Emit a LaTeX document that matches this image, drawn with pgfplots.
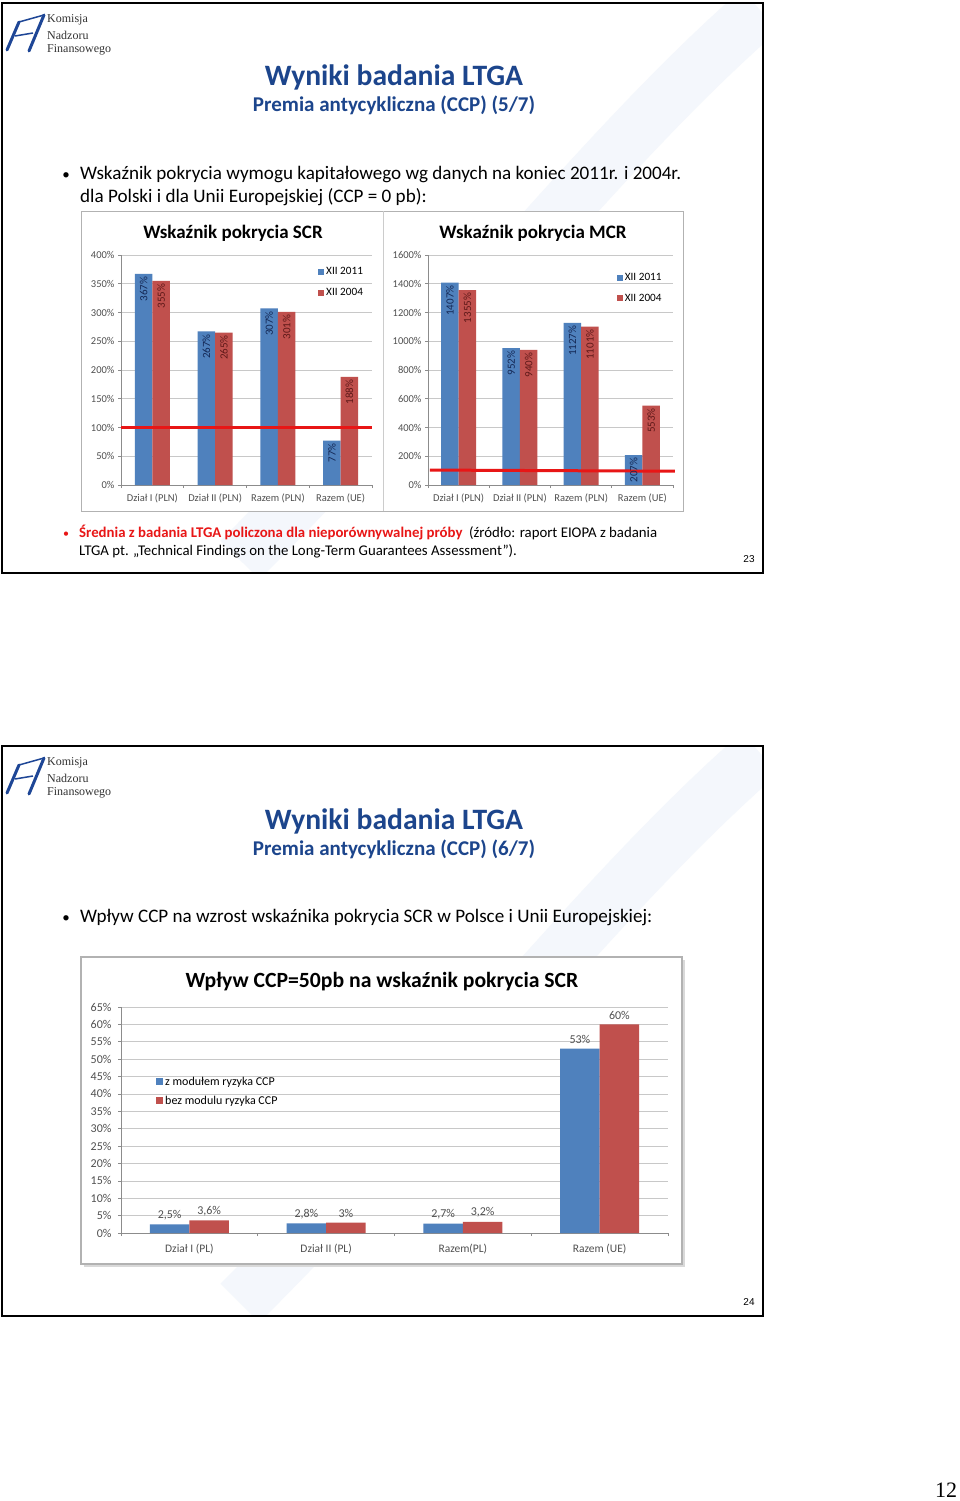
\documentclass[border=0pt]{standalone}
\usepackage{fontspec}
\setmainfont{Carlito}
\newfontfamily\timesf{Liberation Serif}
\newfontfamily\arialf{Liberation Sans}
\usepackage{pgfplots}
\pgfplotsset{compat=1.18}
\definecolor{xblue}{RGB}{79,129,189}
\definecolor{xred}{RGB}{192,80,77}
\definecolor{tblue}{RGB}{28,69,140}
\definecolor{lred}{RGB}{232,22,22}
\definecolor{tickgray}{RGB}{80,80,80}
\definecolor{gridgray}{RGB}{200,200,200}
\definecolor{axgray}{RGB}{140,140,140}
\definecolor{bluelab}{RGB}{20,40,85}
\definecolor{redlab}{RGB}{95,25,25}
\definecolor{wm}{RGB}{244,247,252}
\definecolor{logoblue}{RGB}{30,70,150}
\newcommand\fs[1]{\fontsize{#1}{#1}\selectfont}

\pgfplotsset{
  xl/.style={
    scale only axis, ymin=0, xmin=-0.5, xmax=3.5, enlargelimits=false,
    axis x line*=bottom, axis y line*=left,
    axis line style={draw=axgray, line width=0.8pt},
    ymajorgrids, grid style={draw=gridgray, line width=0.7pt},
    tick align=outside, major tick length=3pt,
    tick style={draw=axgray, line width=0.7pt},
    xtick={-0.5,0.5,1.5,2.5,3.5}, xticklabels={},
    extra x ticks={0,1,2,3},
    extra x tick style={tick style={draw=none}},
    ticklabel style={text=tickgray},
    legend cell align=left,
    legend style={draw=none, fill=none, anchor=north west, inner sep=0pt},
  }
}

\begin{document}
\begin{tikzpicture}[x=1pt,y=1pt]
\useasboundingbox (0,0) rectangle (960,-1501);
\fill[white] (0,0) rectangle (960,-1501);

% ---------- watermarks ----------
\begin{scope}
\clip (2,-3) rectangle (763,-573);
\draw[wm, line width=55pt] (760,-10) .. controls (600,-150) and (450,-350) .. (240,-560);
\end{scope}
\begin{scope}
\clip (2,-746) rectangle (763,-1316);
\draw[wm, line width=55pt] (760,-753) .. controls (600,-893) and (450,-1093) .. (240,-1303);
\end{scope}

% ---------- slide frames ----------
\draw[black, line width=2.5pt] (2,-3) rectangle (763,-573);
\draw[black, line width=2.5pt] (2,-746) rectangle (763,-1316);

% ---------- logos ----------
\foreach \dy in {0,743}{
  \begin{scope}[yshift=-\dy]
  \draw[logoblue, line width=3pt, line cap=round] (7,-50) -- (19,-22);
  \draw[logoblue, line width=1.5pt] (19,-22) -- (44,-15);
  \draw[logoblue, line width=3pt, line cap=round] (44,-15) -- (29,-51);
  \draw[logoblue, line width=1.5pt] (15,-36) -- (33,-33);
  \node[anchor=west, inner sep=0pt, text=black!80] at (47,-20) {\timesf\fs{12}Komisja};
  \node[anchor=west, inner sep=0pt, text=black!80] at (47,-35) {\timesf\fs{12}Nadzoru};
  \node[anchor=west, inner sep=0pt, text=black!80] at (47,-50) {\timesf\fs{12}Finansowego};
  \end{scope}
}

% ---------- slide 1 text ----------
\node[anchor=base, inner sep=0pt, text=tblue] at (394,-86) {\fs{29.6}\bfseries Wyniki badania LTGA};
\node[anchor=base, inner sep=0pt, text=tblue] at (394,-112) {\fs{21}\bfseries Premia antycykliczna (CCP) (5/7)};
\node[anchor=base, inner sep=0pt] at (66,-179) {\fs{15}•};
\node[anchor=base west, inner sep=0pt] at (80,-179) {\fs{19.1}Wskaźnik pokrycia wymogu kapitałowego wg danych na koniec 2011r. i 2004r.};
\node[anchor=base west, inner sep=0pt] at (80,-202) {\fs{19.1}dla Polski i dla Unii Europejskiej (CCP = 0 pb):};

\node[anchor=base, inner sep=0pt, text=lred] at (66,-537) {\fs{12}•};
\node[anchor=base west, inner sep=0pt] at (79,-537) {\fs{14.8}\textcolor{lred}{\bfseries Średnia z badania LTGA policzona dla nieporównywalnej próby}\ \ (źródło: raport EIOPA z badania};
\node[anchor=base west, inner sep=0pt] at (79,-555) {\fs{14.8}LTGA pt. „Technical Findings on the Long-Term Guarantees Assessment”).};
\node[anchor=center, inner sep=0pt] at (749,-559) {\arialf\fs{10}23};

% ---------- slide 1 chart panel ----------
\fill[white] (81,-211) rectangle (683,-511);
\draw[gray!60, line width=1pt] (81,-211) rectangle (683,-511);
\draw[gray!40, line width=1pt] (383,-211) -- (383,-511);
\node[anchor=base, inner sep=0pt] at (233,-238) {\fs{19}\bfseries Wskaźnik pokrycia SCR};
\node[anchor=base, inner sep=0pt] at (533,-238) {\fs{19}\bfseries Wskaźnik pokrycia MCR};

% SCR
\begin{axis}[xl, at={(121pt,-485pt)}, anchor=south west, width=251pt, height=230pt,
  ymax=400, ytick={0,50,...,400},
  yticklabels={0\%,50\%,100\%,150\%,200\%,250\%,300\%,350\%,400\%},
  extra x tick labels={Dział I (PLN),Dział II (PLN),Razem (PLN),Razem (UE)},
  ticklabel style={font=\fs{10.5}}, xticklabel style={yshift=-2.5pt},
  legend style={at={(0.785,0.955)}, font=\fs{11.2}, row sep=8pt},
  legend image code/.code={\fill[#1] (0pt,-3pt) rectangle (6pt,3pt);},
]
\addplot[ybar, bar width=17.5pt, bar shift=-8.75pt, fill=xblue, draw=none,
  point meta=explicit symbolic, nodes near coords,
  nodes near coords style={xshift=-8.75pt, rotate=90, anchor=east, text=bluelab, font=\fs{11}, inner sep=2.5pt}]
  coordinates {(0,367) [367\%] (1,267) [267\%] (2,307) [307\%] (3,77) [77\%]};
\addplot[ybar, bar width=17.5pt, bar shift=8.75pt, fill=xred, draw=none,
  point meta=explicit symbolic, nodes near coords,
  nodes near coords style={xshift=8.75pt, rotate=90, anchor=east, text=redlab, font=\fs{11}, inner sep=2.5pt}]
  coordinates {(0,355) [355\%] (1,265) [265\%] (2,301) [301\%] (3,188) [188\%]};
\legend{XII 2011, XII 2004}
\addplot[sharp plot, lred, line width=3pt, forget plot] coordinates {(-0.5,100) (3.5,100)};
\end{axis}

% MCR
\begin{axis}[xl, at={(428pt,-485pt)}, anchor=south west, width=245pt, height=230pt,
  ymax=1600, ytick={0,200,...,1600},
  yticklabels={0\%,200\%,400\%,600\%,800\%,1000\%,1200\%,1400\%,1600\%},
  extra x tick labels={Dział I (PLN),Dział II (PLN),Razem (PLN),Razem (UE)},
  ticklabel style={font=\fs{10.5}}, xticklabel style={yshift=-2.5pt},
  legend style={at={(0.77,0.93)}, font=\fs{11.2}, row sep=8pt},
  legend image code/.code={\fill[#1] (0pt,-3pt) rectangle (6pt,3pt);},
  clip=false,
]
\addplot[ybar, bar width=17.5pt, bar shift=-8.75pt, fill=xblue, draw=none,
  point meta=explicit symbolic, nodes near coords,
  nodes near coords style={xshift=-8.75pt, rotate=90, anchor=east, text=bluelab, font=\fs{11}, inner sep=2.5pt}]
  coordinates {(0,1407) [1407\%] (1,952) [952\%] (2,1127) [1127\%] (3,207) [207\%]};
\addplot[ybar, bar width=17.5pt, bar shift=8.75pt, fill=xred, draw=none,
  point meta=explicit symbolic, nodes near coords,
  nodes near coords style={xshift=8.75pt, rotate=90, anchor=east, text=redlab, font=\fs{11}, inner sep=2.5pt}]
  coordinates {(0,1355) [1355\%] (1,940) [940\%] (2,1101) [1101\%] (3,553) [553\%]};
\legend{XII 2011, XII 2004}
\addplot[sharp plot, lred, line width=3pt, forget plot] coordinates {(-0.47,104) (3.53,96)};
\end{axis}

% ---------- slide 2 text ----------
\node[anchor=base, inner sep=0pt, text=tblue] at (394,-829) {\fs{29.6}\bfseries Wyniki badania LTGA};
\node[anchor=base, inner sep=0pt, text=tblue] at (394,-855) {\fs{21}\bfseries Premia antycykliczna (CCP) (6/7)};
\node[anchor=base, inner sep=0pt] at (66,-922) {\fs{15}•};
\node[anchor=base west, inner sep=0pt] at (80,-922) {\fs{19.1}Wpływ CCP na wzrost wskaźnika pokrycia SCR w Polsce i Unii Europejskiej:};
\node[anchor=center, inner sep=0pt] at (749,-1302) {\arialf\fs{10}24};

% ---------- slide 2 chart panel ----------
\fill[gray!30] (84,-960) rectangle (685,-1267);
\fill[white] (81,-957) rectangle (682,-1264);
\draw[gray!60, line width=1.2pt] (81,-957) rectangle (682,-1264);
\node[anchor=base, inner sep=0pt] at (382,-987) {\fs{21.7}\bfseries Wpływ CCP=50pb na wskaźnik pokrycia SCR};

\begin{axis}[xl, at={(121pt,-1233pt)}, anchor=south west, width=547pt, height=226pt,
  ymax=65, ytick={0,5,...,65},
  yticklabels={0\%,5\%,10\%,15\%,20\%,25\%,30\%,35\%,40\%,45\%,50\%,55\%,60\%,65\%},
  extra x tick labels={Dział I (PL),Dział II (PL),Razem(PL),Razem (UE)},
  ticklabel style={font=\fs{12}}, xticklabel style={yshift=-5pt, font=\fs{11.5}},
  yticklabel style={xshift=-3pt},
  legend style={at={(0.064,0.70)}, font=\fs{12}, row sep=5pt},
  legend image code/.code={\fill[#1] (0pt,-3.5pt) rectangle (7pt,3.5pt);},
]
\addplot[ybar, bar width=39.5pt, bar shift=-19.75pt, fill=xblue, draw=none,
  point meta=explicit symbolic, nodes near coords,
  nodes near coords style={xshift=-19.75pt, text=tickgray, font=\fs{12}, inner sep=4.5pt}]
  coordinates {(0,2.5) [2,5\%] (1,2.8) [2,8\%] (2,2.7) [2,7\%] (3,53) [53\%]};
\addplot[ybar, bar width=39.5pt, bar shift=19.75pt, fill=xred, draw=none,
  point meta=explicit symbolic, nodes near coords,
  nodes near coords style={xshift=19.75pt, text=tickgray, font=\fs{12}, inner sep=4.5pt}]
  coordinates {(0,3.6) [3,6\%] (1,3.0) [3\%] (2,3.2) [3,2\%] (3,60) [60\%]};
\legend{z modułem ryzyka CCP, bez modulu ryzyka CCP}
\end{axis}

% page number
\node[anchor=center, inner sep=0pt] at (946,-1490) {\timesf\fs{22}12};
\end{tikzpicture}
\end{document}
